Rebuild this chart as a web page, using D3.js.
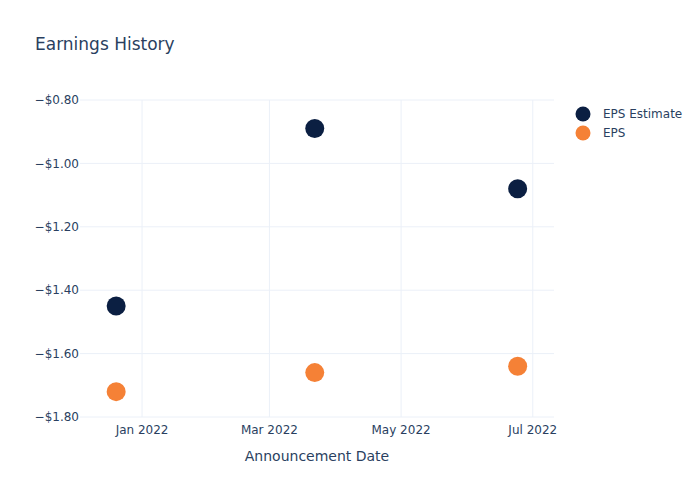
<!DOCTYPE html>
<html><head><meta charset="utf-8">
<script src="https://cdn.jsdelivr.net/npm/d3@7"></script>
<style>body{margin:0;background:#fff;} text{font-family:"DejaVu Sans",sans-serif;}</style>
</head><body>
<svg id="chart" width="700" height="500"></svg>
<script>
const dates = ["2021-12-20", "2022-03-22", "2022-06-24"];
const epsEstimate = [-1.45, -0.89, -1.08];
const eps = [-1.72, -1.66, -1.64];
const yTicks = [-0.8, -1.0, -1.2, -1.4, -1.6, -1.8];
const xTicks = ["2022-01-01", "2022-03-01", "2022-05-01", "2022-07-01"];
const seriesNames = ["EPS Estimate", "EPS"];
const colors = ["#0b1f42", "#f58136"];

const svg = d3.select("#chart");
const m = {l: 80, r: 146, t: 100, b: 83};
const W = 700, H = 500;
const parse = d3.utcParse("%Y-%m-%d");
const x = d3.scaleUtc()
  .domain([new Date(Date.UTC(2021, 11, 3, 6)), new Date(Date.UTC(2022, 6, 10, 20))])
  .range([m.l, W - m.r]);
const y = d3.scaleLinear().domain([-1.8, -0.8]).range([H - m.b, m.t]);

const grid = "#ebf0f8", txt = "#2a3f5f";
svg.append("g").selectAll("line").data(xTicks).join("line")
  .attr("x1", d => x(parse(d))).attr("x2", d => x(parse(d)))
  .attr("y1", m.t).attr("y2", H - m.b).attr("stroke", grid).attr("stroke-width", 1);
svg.append("g").selectAll("line").data(yTicks).join("line")
  .attr("x1", m.l).attr("x2", W - m.r)
  .attr("y1", d => y(d)).attr("y2", d => y(d)).attr("stroke", grid).attr("stroke-width", 1);

const fmt = d => "\u2212$" + Math.abs(d).toFixed(2);
svg.append("g").selectAll("text").data(yTicks).join("text")
  .attr("x", m.l - 1).attr("y", d => y(d)).attr("dy", "0.35em")
  .attr("text-anchor", "end").attr("font-size", 12).attr("fill", txt).text(fmt);
const xf = d3.utcFormat("%b %Y");
svg.append("g").selectAll("text").data(xTicks).join("text")
  .attr("x", d => x(parse(d))).attr("y", H - m.b + 17)
  .attr("text-anchor", "middle").attr("font-size", 12).attr("fill", txt).text(d => xf(parse(d)));

svg.append("text").attr("x", (m.l + W - m.r) / 2).attr("y", 461)
  .attr("text-anchor", "middle").attr("font-size", 14).attr("fill", txt).text("Announcement Date");
svg.append("text").attr("x", 35).attr("y", 50)
  .attr("font-size", 17).attr("fill", txt).text("Earnings History");

[epsEstimate, eps].forEach((vals, i) => {
  svg.append("g").selectAll("circle").data(vals).join("circle")
    .attr("cx", (d, j) => x(parse(dates[j]))).attr("cy", d => y(d))
    .attr("r", 9.5).attr("fill", colors[i]);
});

const leg = svg.append("g");
seriesNames.forEach((n, i) => {
  leg.append("circle").attr("cx", 583).attr("cy", 114 + i * 19).attr("r", 7.5).attr("fill", colors[i]);
  leg.append("text").attr("x", 603).attr("y", 114 + i * 19).attr("dy", "0.35em")
    .attr("font-size", 12).attr("fill", txt).text(n);
});
</script>
</body></html>
